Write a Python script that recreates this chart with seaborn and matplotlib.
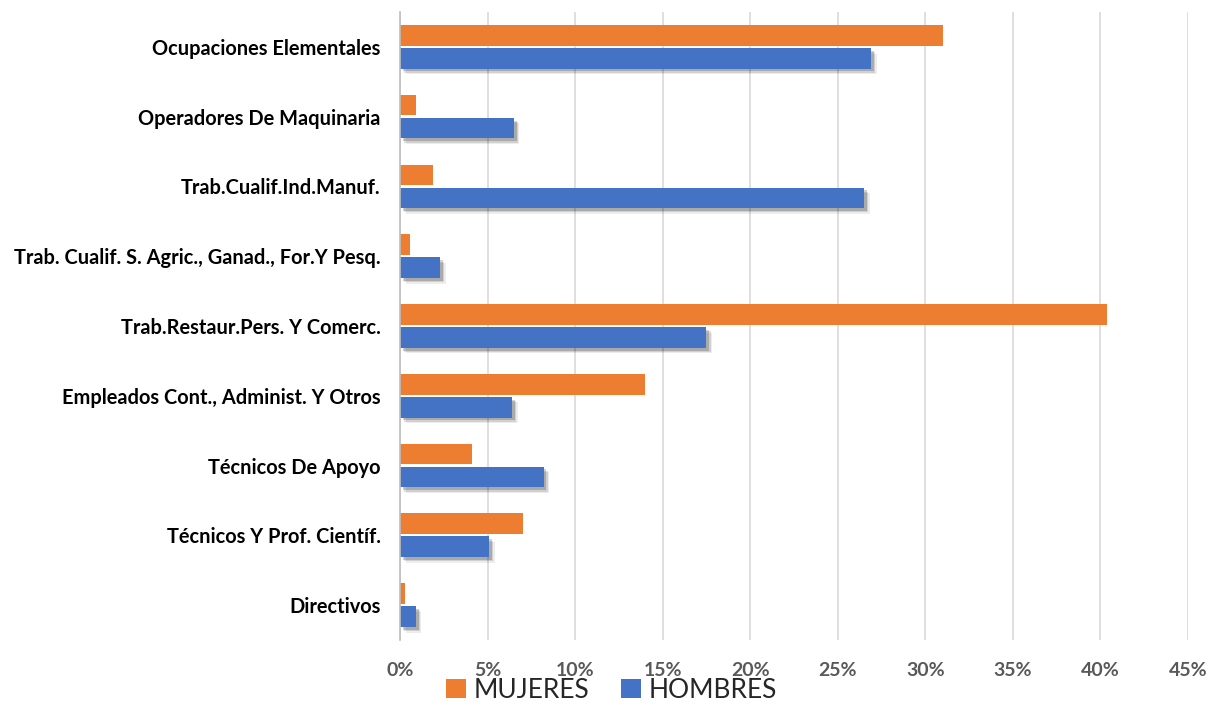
import matplotlib
matplotlib.use("Agg")
import matplotlib.pyplot as plt
import matplotlib.patheffects as pe
from matplotlib.ticker import FuncFormatter
import seaborn as sns
import pandas as pd

categorias = [
    "Ocupaciones Elementales",
    "Operadores De Maquinaria",
    "Trab.Cualif.Ind.Manuf.",
    "Trab. Cualif. S. Agric., Ganad., For.Y Pesq.",
    "Trab.Restaur.Pers. Y Comerc.",
    "Empleados Cont., Administ. Y Otros",
    "Técnicos De Apoyo",
    "Técnicos Y Prof. Científ.",
    "Directivos",
]
mujeres = [31.0, 0.9, 1.9, 0.6, 40.4, 14.0, 4.1, 7.0, 0.3]
hombres = [26.9, 6.5, 26.5, 2.3, 17.5, 6.4, 8.2, 5.1, 0.9]
series = ["MUJERES", "HOMBRES"]
xticks = [0, 5, 10, 15, 20, 25, 30, 35, 40, 45]

df = pd.DataFrame({
    "cat": categorias * 2,
    "val": mujeres + hombres,
    "serie": [series[0]] * len(categorias) + [series[1]] * len(categorias),
})

sns.set_theme(style="white")
plt.rcParams["font.family"] = ["Lato", "DejaVu Sans"]

fig = plt.figure(figsize=(12.11, 7.02), dpi=100)
ax = fig.add_axes([0.3303, 0.0883, 0.6507, 0.8947])

sns.barplot(data=df, y="cat", x="val", hue="serie", order=categorias,
            hue_order=series, palette=["#ED7D31", "#4472C4"], orient="h",
            width=0.66, gap=0.1, ax=ax, saturation=1, legend=True,
            linewidth=0, edgecolor="none")

for bar in ax.containers[1]:
    bar.set_path_effects([
        pe.SimplePatchShadow(offset=(4, -4), shadow_rgbFace="#000000", alpha=0.07),
        pe.SimplePatchShadow(offset=(3, -3), shadow_rgbFace="#000000", alpha=0.12),
        pe.SimplePatchShadow(offset=(2, -2), shadow_rgbFace="#000000", alpha=0.18),
        pe.Normal()])

ax.set_xlim(0, 45)
ax.set_ylim(len(categorias) - 0.5, -0.5)
ax.set_xticks(xticks)
ax.xaxis.set_major_formatter(FuncFormatter(lambda v, p: f"{v:.0f}%"))
ax.grid(axis="x", color="#D9D9D9", linewidth=1.2)
ax.set_axisbelow(True)
for s in ["top", "right", "bottom"]:
    ax.spines[s].set_visible(False)
ax.spines["left"].set_color("#BFBFBF")
ax.spines["left"].set_linewidth(1.2)
ax.set_xlabel("")
ax.set_ylabel("")
ax.tick_params(axis="x", length=0, pad=16, labelsize=14, labelcolor="#595959")
ax.tick_params(axis="y", length=0, pad=14, labelsize=14.4, labelcolor="#000000")
for t in ax.get_xticklabels() + ax.get_yticklabels():
    t.set_fontweight("bold")

handles, labels = ax.get_legend_handles_labels()
ax.legend_.remove()
fig.legend(handles, labels, loc="center", bbox_to_anchor=(0.505, 0.017), ncol=2,
           frameon=False, fontsize=19, handlelength=0.75, handleheight=0.75,
           handletextpad=0.3, columnspacing=1.2, borderpad=0)

fig.savefig("out.png", dpi=100)
